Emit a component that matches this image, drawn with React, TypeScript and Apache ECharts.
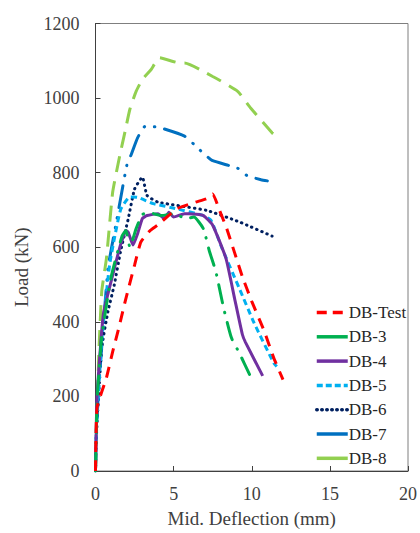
import React, { useEffect, useRef } from "react";
import * as echarts from "echarts";

const seriesNames = ["DB-Test", "DB-3", "DB-4", "DB-5", "DB-6", "DB-7", "DB-8"];

const dbTest: [number, number][] = [
  [0, 0], [0.1, 170], [0.7, 250], [1.1, 320], [1.5, 385], [1.9, 455], [2.5, 552], [2.9, 614],
  [3.5, 645], [4.0, 660], [5.2, 703], [6.4, 721], [7.1, 730], [7.5, 743], [7.9, 703], [8.4, 650],
  [9.4, 521], [10.0, 455], [10.8, 375], [11.4, 304], [12.0, 245],
];
const db3: [number, number][] = [
  [0, 0], [0.1, 190], [0.4, 360], [1.0, 520], [1.7, 630], [1.95, 645], [2.2, 600], [2.6, 650],
  [3.0, 688], [3.5, 692], [4.2, 685], [5.0, 690], [5.8, 677], [6.3, 681], [6.9, 650], [7.3, 588],
  [7.7, 535], [8.2, 437], [8.7, 357], [9.2, 317], [9.9, 255],
];
const db4: [number, number][] = [
  [0, 0], [0.1, 200], [0.5, 420], [1.1, 525], [1.6, 606], [1.95, 645], [2.1, 640], [2.4, 606],
  [2.7, 637], [3.0, 677], [3.3, 685], [4.0, 690], [4.4, 677], [4.7, 694], [5.0, 681], [5.7, 690],
  [6.0, 690], [6.9, 685], [7.5, 659], [8.35, 570], [8.9, 463], [9.4, 366], [9.6, 345], [10.7, 255],
];
const db5: [number, number][] = [
  [0, 0], [0.05, 104], [0.4, 349], [0.9, 552], [1.6, 700], [2.2, 735], [2.7, 734], [3.7, 717],
  [5.2, 703], [6.9, 685], [7.4, 672], [8.1, 597], [9.2, 490], [10.15, 397], [11.4, 290], [11.6, 280],
];
const db6: [number, number][] = [
  [0, 0], [0.05, 90], [0.4, 330], [0.8, 428], [1.2, 499], [1.6, 588], [2.1, 677], [2.5, 756],
  [3.0, 788], [3.3, 739], [4.0, 721], [7.1, 699], [9.2, 668], [11.3, 630],
];
const db7: [number, number][] = [
  [0, 0], [0.05, 100], [0.2, 220], [0.8, 543], [1.3, 659], [2.0, 819], [2.3, 850], [2.7, 894],
  [3.2, 925], [4.1, 921], [5.7, 898], [6.3, 876], [6.9, 852], [7.5, 832], [9.1, 812], [9.7, 792],
  [10.6, 781], [11.0, 778],
];
const db8: [number, number][] = [
  [0, 0], [0.2, 300], [0.4, 482], [0.7, 570], [1.1, 748], [1.55, 845], [1.9, 912], [2.2, 970],
  [2.6, 1018], [3.0, 1050], [3.55, 1076], [4.1, 1108], [5.4, 1094], [5.7, 1094], [7.5, 1058],
  [9.1, 1018], [9.9, 975], [11.3, 907], [11.5, 900],
];

const xTicks = [0, 5, 10, 15, 20];
const yTicks = [0, 200, 400, 600, 800, 1000, 1200];

const colors = ["#FF0000", "#00B050", "#7030A0", "#00B0F0", "#002060", "#0070C0", "#92D050"];
const dashes: any[] = [
  [11, 8],
  [18, 10, 0.5, 10],
  "solid",
  [6, 4],
  [0.5, 5],
  [22, 10, 0.5, 10, 0.5, 10],
  [16, 9],
];
const caps = ["butt", "round", "butt", "butt", "round", "round", "butt"];
const legendDashes: any[] = [[10, 6], "solid", "solid", [6, 3], [0.5, 4.5], "solid", "solid"];

export default function App() {
  const ref = useRef<HTMLDivElement>(null);
  useEffect(() => {
    if (!ref.current) return;
    const chart = echarts.init(ref.current, undefined, { renderer: "svg" });
    const datasets = [dbTest, db3, db4, db5, db6, db7, db8];
    const font = "'Liberation Serif', 'Times New Roman', serif";
    chart.setOption({
      animation: false,
      backgroundColor: "#ffffff",
      textStyle: { fontFamily: font },
      grid: {
        left: 95.5,
        right: 10.5,
        top: 23.5,
        bottom: 59,
        show: true,
        borderColor: "#7f7f7f",
        borderWidth: 1,
        backgroundColor: "transparent",
      },
      legend: {
        orient: "vertical",
        left: 310,
        top: 299,
        itemWidth: 31,
        itemHeight: 14,
        itemGap: 7.3,
        textStyle: { fontFamily: font, fontSize: 17, color: "#262626", padding: [0, 0, 0, -4] },
        data: seriesNames.map((n, i) => ({
          name: n,
          itemStyle: { opacity: 0 },
          lineStyle: { width: 3.5, type: legendDashes[i], cap: i === 4 ? "round" : "butt", color: colors[i] },
        })),
      },
      xAxis: {
        type: "value",
        min: 0,
        max: 20,
        interval: 5,
        name: "Mid. Deflection (mm)",
        nameLocation: "middle",
        nameGap: 38,
        nameTextStyle: { fontFamily: font, fontSize: 19, color: "#404040" },
        axisLine: { show: true, lineStyle: { color: "#404040", width: 1 } },
        axisTick: { show: true, inside: true, length: 5, lineStyle: { color: "#404040" } },
        axisLabel: {
          fontFamily: font,
          fontSize: 18,
          color: "#404040",
          margin: 14,
          formatter: (v: number) => (xTicks.includes(v) ? String(v) : ""),
        },
        splitLine: { show: false },
      },
      yAxis: {
        type: "value",
        min: 0,
        max: 1200,
        interval: 200,
        name: "Load (kN)",
        nameLocation: "middle",
        nameGap: 65,
        nameTextStyle: { fontFamily: font, fontSize: 19, color: "#404040", padding: [0, 40, 0, 0] },
        axisLine: { show: true, lineStyle: { color: "#404040", width: 1 } },
        axisTick: { show: true, inside: true, length: 5, lineStyle: { color: "#404040" } },
        axisLabel: {
          fontFamily: font,
          fontSize: 18,
          color: "#404040",
          margin: 16,
          formatter: (v: number) => (yTicks.includes(v) ? String(v) : ""),
        },
        splitLine: { show: false },
      },
      series: datasets.map((d, i) => ({
        name: seriesNames[i],
        type: "line",
        data: d,
        symbol: "none",
        smooth: 0.15,
        lineStyle: {
          color: colors[i],
          width: 3,
          type: dashes[i],
          cap: caps[i],
        },
        itemStyle: { color: colors[i] },
        z: 10 - i,
      })),
    });
    return () => chart.dispose();
  }, []);
  return (
    <div
      ref={ref}
      style={{ position: "fixed", left: 0, top: 0, width: 420, height: 533 }}
    />
  );
}
